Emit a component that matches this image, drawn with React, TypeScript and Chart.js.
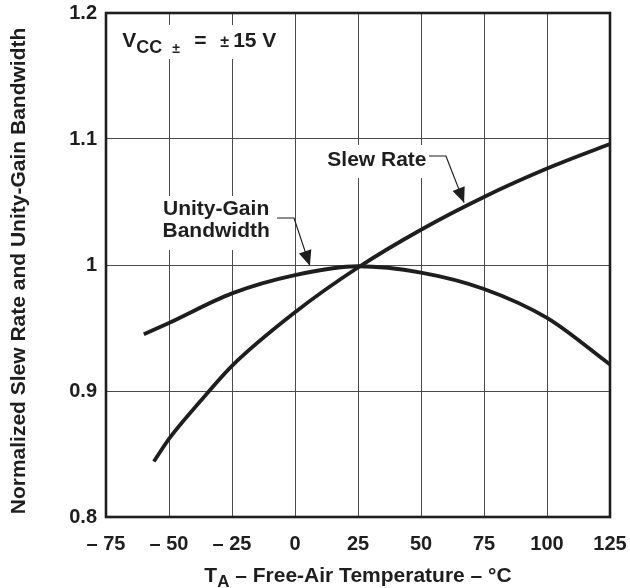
import React, { useEffect, useRef } from 'react';
import { Chart, registerables } from 'chart.js';

Chart.register(...registerables);

// ---- Data ----
const slewTemps = [-56, -50, -37.5, -25, 0, 25, 50, 75, 100, 125];
const slewValues = [0.844, 0.862, 0.892, 0.92, 0.9625, 0.998, 1.028, 1.054, 1.0765, 1.096];
const ugbTemps = [-60, -50, -25, 0, 25, 50, 75, 100, 125];
const ugbValues = [0.945, 0.954, 0.9775, 0.992, 0.999, 0.994, 0.981, 0.958, 0.921];

const xTickValues = [-75, -50, -25, 0, 25, 50, 75, 100, 125];
const yTickValues = [0.8, 0.9, 1.0, 1.1, 1.2];

const xTitleMain = 'T';
const xTitleSub = 'A';
const xTitleRest = ' \u2013 Free-Air Temperature \u2013 \u00B0C';
const yTitle = 'Normalized Slew Rate and Unity-Gain Bandwidth';
const slewLabel = 'Slew Rate';
const ugbLabelLines = ['Unity-Gain', 'Bandwidth'];

// annotation anchors in data coordinates (temperature, normalized value)
const vccAnchor = { t: -68.6, v: 1.173 };
const ugbLabelAnchor = { t: -31.3, v1: 1.0397, v2: 1.0222 };
const ugbLeader = [{ t: -7.1, v: 1.0373 }, { t: -0.4, v: 1.0373 }, { t: 5.9, v: 0.9995 }];
const slewLabelAnchor = { t: 32.5, v: 1.0786 };
const slewLeader = [{ t: 53.2, v: 1.0865 }, { t: 59.9, v: 1.0865 }, { t: 67.1, v: 1.0495 }];

const FONT = '"Liberation Sans", Arial, Helvetica, sans-serif';
const INK = '#1e1e1e';

function drawArrow(ctx: CanvasRenderingContext2D, pts: { x: number; y: number }[]) {
  ctx.beginPath();
  ctx.moveTo(pts[0].x, pts[0].y);
  for (let i = 1; i < pts.length; i++) ctx.lineTo(pts[i].x, pts[i].y);
  ctx.lineWidth = 1.2;
  ctx.strokeStyle = INK;
  ctx.stroke();
  const a = pts[pts.length - 2];
  const b = pts[pts.length - 1];
  const ang = Math.atan2(b.y - a.y, b.x - a.x);
  const L = 15;
  const W = 6.5;
  const bx = b.x - L * Math.cos(ang);
  const by = b.y - L * Math.sin(ang);
  ctx.beginPath();
  ctx.moveTo(b.x, b.y);
  ctx.lineTo(bx + W * Math.sin(ang), by - W * Math.cos(ang));
  ctx.lineTo(bx - W * Math.sin(ang), by + W * Math.cos(ang));
  ctx.closePath();
  ctx.fillStyle = INK;
  ctx.fill();
}

const annotPlugin = {
  id: 'annot',
  afterDraw(chart: any) {
    const { ctx, chartArea: ca, scales } = chart;
    const xs = scales.x;
    const ys = scales.y;
    const px = (t: number) => xs.getPixelForValue(t);
    const py = (v: number) => ys.getPixelForValue(v);
    ctx.save();

    // plot frame
    ctx.strokeStyle = INK;
    ctx.lineWidth = 2.6;
    ctx.strokeRect(ca.left, ca.top, ca.right - ca.left, ca.bottom - ca.top);

    ctx.textBaseline = 'alphabetic';

    // VCC label
    {
      const x0 = px(vccAnchor.t);
      const yb = py(vccAnchor.v);
      ctx.fillStyle = '#fff';
      ctx.fillRect(x0 - 4, yb - 22, 168, 34);
      ctx.fillStyle = INK;
      ctx.textAlign = 'left';
      ctx.font = `bold 21px ${FONT}`;
      ctx.fillText('V', x0, yb);
      ctx.font = `bold 18px ${FONT}`;
      ctx.fillText('CC', x0 + 14, yb + 6);
      ctx.font = `bold 14px ${FONT}`;
      ctx.fillText('\u00B1', x0 + 50, yb + 6);
      ctx.font = `bold 21px ${FONT}`;
      ctx.fillText('=', x0 + 72, yb);
      ctx.font = `bold 16px ${FONT}`;
      ctx.fillText('\u00B1', x0 + 98, yb);
      ctx.font = `bold 21px ${FONT}`;
      ctx.fillText('15 V', x0 + 111, yb);
    }

    // Unity-Gain Bandwidth label
    {
      ctx.font = `bold 21px ${FONT}`;
      const cx = px(ugbLabelAnchor.t);
      const y1 = py(ugbLabelAnchor.v1);
      const y2 = py(ugbLabelAnchor.v2);
      const w = Math.max(...ugbLabelLines.map((s) => ctx.measureText(s).width));
      ctx.fillStyle = '#fff';
      ctx.fillRect(cx - w / 2 - 4, y1 - 19, w + 8, y2 - y1 + 32);
      ctx.fillStyle = INK;
      ctx.textAlign = 'center';
      ctx.fillText(ugbLabelLines[0], cx, y1);
      ctx.fillText(ugbLabelLines[1], cx, y2);
      drawArrow(ctx, ugbLeader.map((p) => ({ x: px(p.t), y: py(p.v) })));
    }

    // Slew Rate label
    {
      ctx.font = `bold 21px ${FONT}`;
      const cx = px(slewLabelAnchor.t);
      const yb = py(slewLabelAnchor.v);
      const w = ctx.measureText(slewLabel).width;
      ctx.fillStyle = '#fff';
      ctx.fillRect(cx - w / 2 - 4, yb - 21, w + 8, 33);
      ctx.fillStyle = INK;
      ctx.textAlign = 'center';
      ctx.fillText(slewLabel, cx, yb);
      drawArrow(ctx, slewLeader.map((p) => ({ x: px(p.t), y: py(p.v) })));
    }

    // X axis title with subscript
    {
      ctx.textAlign = 'left';
      ctx.font = `bold 21px ${FONT}`;
      const wT = ctx.measureText(xTitleMain).width;
      const wR = ctx.measureText(xTitleRest).width;
      ctx.font = `bold 17px ${FONT}`;
      const wA = ctx.measureText(xTitleSub).width;
      const total = wT + wA + wR;
      const cx = (ca.left + ca.right) / 2;
      let x = cx - total / 2;
      const yb = 582;
      ctx.fillStyle = INK;
      ctx.font = `bold 21px ${FONT}`;
      ctx.fillText(xTitleMain, x, yb);
      x += wT;
      ctx.font = `bold 17px ${FONT}`;
      ctx.fillText(xTitleSub, x, yb + 5);
      x += wA;
      ctx.font = `bold 21px ${FONT}`;
      ctx.fillText(xTitleRest, x, yb);
    }

    // Y axis title
    {
      ctx.save();
      ctx.translate(19, 271);
      ctx.rotate(-Math.PI / 2);
      ctx.font = `bold 21px ${FONT}`;
      ctx.textAlign = 'center';
      ctx.textBaseline = 'middle';
      ctx.fillStyle = INK;
      ctx.fillText(yTitle, 0, 0);
      ctx.restore();
    }

    ctx.restore();
  },
};

export default function App() {
  const ref = useRef<HTMLCanvasElement | null>(null);

  useEffect(() => {
    document.body.style.margin = '0';
    const canvas = ref.current;
    if (!canvas) return;
    const tickFont = { family: FONT, size: 20, weight: 'bold' as const };
    const chart = new Chart(canvas, {
      type: 'line',
      data: {
        datasets: [
          {
            label: 'Slew Rate',
            data: slewTemps.map((t, i) => ({ x: t, y: slewValues[i] })),
            borderColor: INK,
            borderWidth: 3.8,
            pointRadius: 0,
            fill: false,
            cubicInterpolationMode: 'monotone',
          },
          {
            label: 'Unity-Gain Bandwidth',
            data: ugbTemps.map((t, i) => ({ x: t, y: ugbValues[i] })),
            borderColor: INK,
            borderWidth: 3.8,
            pointRadius: 0,
            fill: false,
            cubicInterpolationMode: 'monotone',
          },
        ],
      },
      options: {
        responsive: false,
        animation: false,
        events: [],
        layout: { padding: { top: 13, right: 20, left: 0, bottom: 0 } },
        plugins: { legend: { display: false }, tooltip: { enabled: false } },
        scales: {
          x: {
            type: 'linear',
            min: -75,
            max: 125,
            afterBuildTicks: (s: any) => {
              s.ticks = xTickValues.map((v) => ({ value: v }));
            },
            afterFit: (s: any) => {
              s.height = 71;
              s.paddingLeft = 0;
              s.paddingRight = 0;
            },
            ticks: {
              font: tickFont,
              color: INK,
              padding: 15,
              maxRotation: 0,
              autoSkip: false,
              callback: (v: any) => (Number(v) < 0 ? '\u2013 ' + Math.abs(Number(v)) : String(v)),
            },
            grid: { color: '#4a4a4a', lineWidth: 1, drawTicks: false },
            border: { display: false },
          },
          y: {
            type: 'linear',
            min: 0.8,
            max: 1.2,
            afterBuildTicks: (s: any) => {
              s.ticks = yTickValues.map((v) => ({ value: v }));
            },
            afterFit: (s: any) => {
              s.width = 106;
              s.paddingTop = 0;
              s.paddingBottom = 0;
            },
            ticks: {
              font: tickFont,
              color: INK,
              padding: 9,
              autoSkip: false,
              callback: (v: any) => String(Number(Number(v).toFixed(1))),
            },
            grid: { color: '#4a4a4a', lineWidth: 1, drawTicks: false },
            border: { display: false },
          },
        },
      },
      plugins: [annotPlugin],
    } as any);
    return () => chart.destroy();
  }, []);

  return (
    <div style={{ width: 630, height: 588 }}>
      <canvas ref={ref} width={630} height={588} style={{ display: 'block', width: 630, height: 588 }} />
    </div>
  );
}
